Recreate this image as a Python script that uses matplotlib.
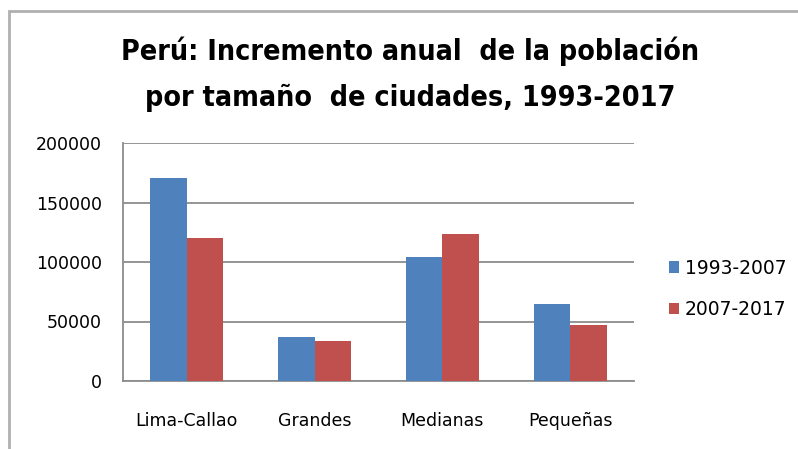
import matplotlib
matplotlib.use("Agg")
import matplotlib.pyplot as plt
from matplotlib.patches import Rectangle
import numpy as np

categories = ["Lima-Callao", "Grandes", "Medianas", "Pequeñas"]
series_names = ["1993-2007", "2007-2017"]
values_1993_2007 = [170500, 37000, 104000, 64400]
values_2007_2017 = [120000, 33700, 123800, 46900]
yticks = [0, 50000, 100000, 150000, 200000]
title_lines = ["Perú: Incremento anual  de la población", "por tamaño  de ciudades, 1993-2017"]

colors = ["#4F81BD", "#C0504D"]

fig = plt.figure(figsize=(7.98, 4.49), dpi=100)
ax = fig.add_axes([123/798, 1-381/449, (634-123)/798, (381-143)/449])

x = np.arange(len(categories))
w = 0.285
ax.bar(x - w/2, values_1993_2007, w, color=colors[0], label=series_names[0], zorder=3)
ax.bar(x + w/2, values_2007_2017, w, color=colors[1], label=series_names[1], zorder=3)

ax.set_xlim(-0.5, len(categories) - 0.5)
ax.set_ylim(0, 200000)
ax.set_yticks(yticks)
ax.set_yticklabels([str(v) for v in yticks])
ax.set_xticks(x)
ax.set_xticklabels(categories)
ax.yaxis.grid(True, color="#8c8c8c", linewidth=1.3, zorder=0)
ax.set_axisbelow(True)
for s in ["top", "right"]:
    ax.spines[s].set_visible(False)
for s in ["left", "bottom"]:
    ax.spines[s].set_color("#8c8c8c")
    ax.spines[s].set_linewidth(1.3)
ax.tick_params(axis="both", length=0, labelsize=12.5, colors="black")
ax.tick_params(axis="y", pad=15)
ax.tick_params(axis="x", pad=22)

leg = fig.legend(loc="center left", bbox_to_anchor=(652/798, 1-289/449), frameon=False,
                 fontsize=13.5, handlelength=0.55, handleheight=0.55, handletextpad=0.3,
                 labelspacing=1.2)

fig.text(410/798, 1-51/449, title_lines[0], ha="center", va="center", fontsize=20.5,
         fontweight="bold", family="DejaVu Sans", fontstretch="condensed")
fig.text(410/798, 1-98/449, title_lines[1], ha="center", va="center", fontsize=20.5,
         fontweight="bold", family="DejaVu Sans", fontstretch="condensed")

fig.patches.append(Rectangle((9/798, -0.1), 1.0, 1-11/449+0.1, transform=fig.transFigure,
                             fill=False, edgecolor="#b0b0b0", linewidth=2))

fig.savefig("out.png", dpi=100)
